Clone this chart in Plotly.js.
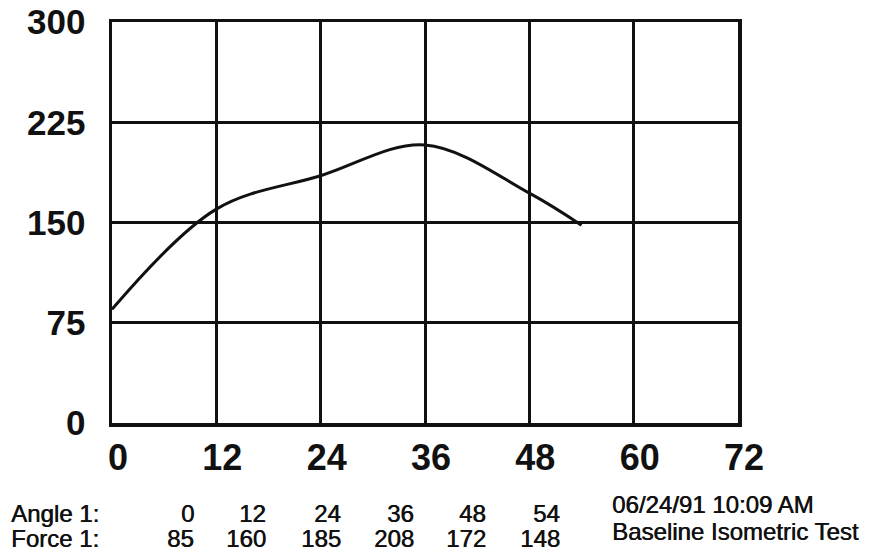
<!DOCTYPE html>
<html><head><meta charset="utf-8">
<script src="https://cdn.plot.ly/plotly-3.0.1.min.js"></script>
<style>body{margin:0;background:#fff}#c{width:885px;height:552px}</style>
</head><body><div id="c"></div>
<script>
const angles = [0, 12, 24, 36, 48, 54];
const forces = [85, 160, 185, 208, 172, 148];
const xTicks = [0, 12, 24, 36, 48, 60, 72];
const yTicks = [0, 75, 150, 225, 300];
const infoLines = ["06/24/91 10:09 AM", "Baseline Isometric Test"];
const rowLabels = ["Angle 1:", "Force 1:"];

const L = 112, T = 22, W = 626, H = 401;
const px = x => (x - L) / W;
const py = y => (T + H - y) / H;
const colRight = [196, 268, 343, 416, 488, 562];
const rowY = [513, 538];
const infoY = [505, 531];
const font = {family: "Liberation Sans, Arial, sans-serif", size: 24, color: "#111", shadow: "0.6px 0 0 #111"};

const ann = [];
const rows = [angles, forces];
rows.forEach((arr, r) => {
  ann.push({text: rowLabels[r], xref: "paper", yref: "paper", x: px(9), y: py(rowY[r]), xanchor: "left", yanchor: "middle", showarrow: false, font});
  arr.forEach((v, i) => ann.push({text: String(v), xref: "paper", yref: "paper", x: px(colRight[i]), y: py(rowY[r]), xanchor: "right", yanchor: "middle", showarrow: false, font}));
  ann.push({text: infoLines[r], xref: "paper", yref: "paper", x: px(610), y: py(infoY[r]), xanchor: "left", yanchor: "middle", showarrow: false, font});
});

const trace = {x: angles, y: forces, type: "scatter", mode: "lines",
  line: {color: "#111", width: 3, shape: "spline", smoothing: 1}};

const layout = {
  width: 885, height: 552,
  margin: {l: L, r: 885 - L - W, t: T, b: 552 - T - H},
  paper_bgcolor: "#fff", plot_bgcolor: "#fff",
  showlegend: false,
  xaxis: {range: [0, 72], tickvals: xTicks, ticktext: xTicks.map(String), showgrid: true, gridcolor: "#111", gridwidth: 3,
    zeroline: false, showline: true, linecolor: "#111", linewidth: 3.5, mirror: true, ticks: "", ticklabelstandoff: 0, ticklabelshift: 6,
    tickfont: {family: "Liberation Sans, Arial, sans-serif", size: 36, color: "#111", weight: "bold"}, fixedrange: true},
  yaxis: {range: [0, 300], tickvals: yTicks, ticktext: yTicks.map(String), showgrid: true, gridcolor: "#111", gridwidth: 3,
    zeroline: false, showline: true, linecolor: "#111", linewidth: 3.5, mirror: true, ticks: "", ticklabelstandoff: 16,
    tickfont: {family: "Liberation Sans, Arial, sans-serif", size: 35, color: "#111", weight: "bold"}, fixedrange: true},
  annotations: ann
};
Plotly.newPlot("c", [trace], layout, {displayModeBar: false, staticPlot: true});
</script></body></html>
